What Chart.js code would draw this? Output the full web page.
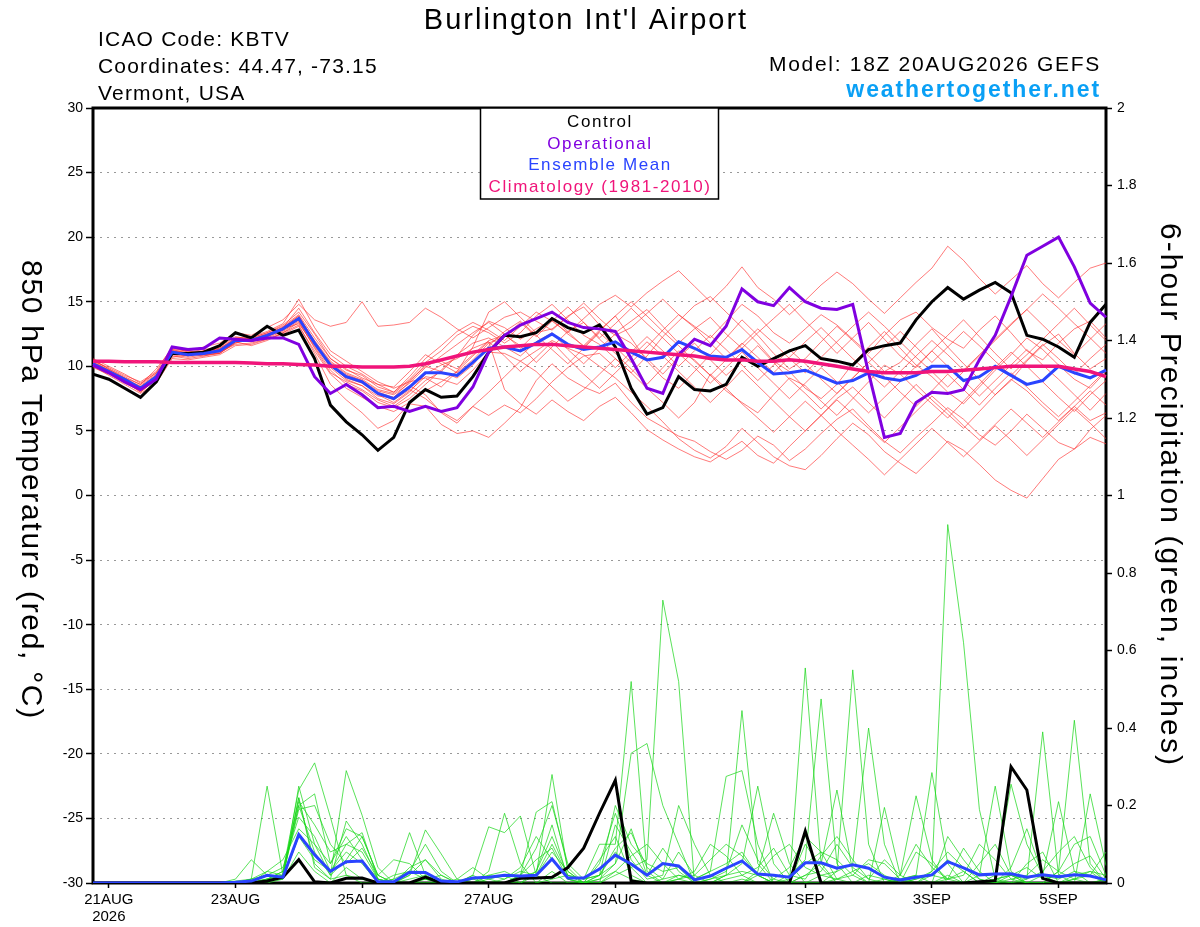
<!DOCTYPE html>
<html>
<head>
<meta charset="utf-8">
<title>Burlington Int'l Airport - GEFS 850 hPa Temperature / Precipitation</title>
<script src="https://cdn.jsdelivr.net/npm/chart.js@4.4.1/dist/chart.umd.min.js"></script>
<style>
  html, body { margin: 0; padding: 0; background: #fff; }
</style>
</head>
<body>
<canvas id="chart" width="1200" height="927"></canvas>
<script>
// 6-hourly steps from 18Z 20AUG2026 to 18Z 05SEP2026
const times = [];
for (let h = 0; h <= 384; h += 6) {
  const d = new Date(Date.UTC(2026, 7, 20, 18 + h));
  times.push(d.getUTCDate() + (d.getUTCMonth() === 7 ? 'AUG' : 'SEP') + ' ' + String(d.getUTCHours()).padStart(2, '0') + 'Z');
}

const tickDays = ['21AUG', '23AUG', '25AUG', '27AUG', '29AUG', '1SEP', '3SEP', '5SEP'];
const tickYear = '2026';

// 850 hPa temperature (C)
const control = [
  9.4, 9.0, 8.3, 7.6, 8.8, 11.0, 11.0, 11.1, 11.6, 12.6, 12.2, 13.1, 12.4,
  12.8, 10.6, 7.0, 5.7, 4.7, 3.5, 4.5, 7.2, 8.2, 7.6, 7.7, 9.2, 11.1,
  12.4, 12.3, 12.6, 13.7, 13.0, 12.6, 13.2, 11.5, 8.3, 6.3, 6.8, 9.2, 8.2,
  8.1, 8.6, 10.7, 10.0, 10.6, 11.2, 11.6, 10.6, 10.4, 10.1, 11.3, 11.6, 11.8,
  13.6, 15.0, 16.1, 15.2, 15.9, 16.5, 15.7, 12.4, 12.1, 11.5, 10.7, 13.4, 14.8,
];
const operational = [
  10.1, 9.5, 8.8, 8.2, 9.0, 11.5, 11.3, 11.4, 12.2, 12.1, 12.0, 12.2, 12.2,
  11.7, 9.2, 7.9, 8.6, 7.8, 6.8, 6.9, 6.5, 6.9, 6.5, 6.8, 8.4, 11.1,
  12.4, 13.2, 13.7, 14.2, 13.4, 13.0, 12.9, 12.7, 10.6, 8.3, 7.9, 10.9, 12.1,
  11.6, 13.1, 16.0, 15.0, 14.7, 16.1, 15.0, 14.5, 14.4, 14.8, 9.5, 4.5, 4.8,
  7.2, 8.0, 7.9, 8.2, 10.5, 12.4, 15.4, 18.6, 19.3, 20.0, 17.7, 14.9, 13.8,
];
const ensMean = [
  10.2, 9.6, 9.0, 8.3, 9.2, 11.1, 10.9, 11.0, 11.2, 12.0, 12.0, 12.4, 12.9,
  13.7, 11.8, 10.1, 9.2, 8.8, 7.9, 7.5, 8.4, 9.5, 9.5, 9.3, 10.3, 11.4,
  11.5, 11.2, 11.8, 12.5, 11.7, 11.3, 11.5, 11.9, 11.1, 10.5, 10.7, 11.9, 11.4,
  10.8, 10.7, 11.3, 10.3, 9.4, 9.5, 9.7, 9.2, 8.7, 8.9, 9.5, 9.1, 8.9,
  9.3, 10.0, 10.0, 8.9, 9.2, 10.0, 9.3, 8.6, 8.9, 10.0, 9.5, 9.1, 9.7,
];
const climatology = [
  10.4, 10.4, 10.35, 10.35, 10.35, 10.3, 10.3, 10.3, 10.3, 10.3, 10.25, 10.2, 10.2,
  10.15, 10.1, 10.0, 10.0, 9.95, 9.95, 9.95, 10.0, 10.2, 10.5, 10.8, 11.1, 11.3,
  11.5, 11.6, 11.7, 11.7, 11.6, 11.5, 11.4, 11.3, 11.2, 11.1, 11.0, 10.9, 10.8,
  10.6, 10.5, 10.5, 10.4, 10.4, 10.5, 10.4, 10.2, 10.0, 9.8, 9.6, 9.5, 9.5,
  9.5, 9.6, 9.6, 9.7, 9.8, 9.9, 10.0, 10.0, 10.0, 10.0, 9.8, 9.6, 9.2,
];

// ensemble member temperatures
const t01 = [
  10.5, 9.8, 9.2, 8.6, 9.8, 11.4, 11.2, 11.5, 11.8, 12.6, 12.4, 13.0, 13.6,
  14.8, 13.6, 13.1, 13.4, 15.0, 13.1, 13.2, 13.4, 14.5, 13.8, 12.9, 12.2, 13.0,
  13.8, 14.2, 13.5, 12.8, 13.9, 14.6, 13.2, 12.4, 13.0, 14.1, 15.2, 14.0, 13.1,
  12.2, 13.5, 14.8, 13.9, 12.6, 11.8, 12.9, 14.0, 13.2, 12.1, 11.0, 12.4, 13.6,
  14.2, 13.0, 12.1, 11.4, 12.8, 13.9, 12.6, 11.2, 10.5, 11.8, 12.9, 13.5, 12.2,
];
const t02 = [
  10.0, 9.3, 8.6, 7.9, 8.7, 10.6, 10.5, 10.7, 10.9, 11.6, 11.7, 12.1, 12.6,
  13.2, 11.0, 8.6, 7.4, 6.4, 5.2, 5.8, 7.1, 6.9, 5.5, 4.8, 5.0, 4.5,
  5.6, 6.8, 8.9, 10.2, 9.1, 8.4, 7.9, 8.7, 7.2, 6.0, 5.3, 4.6, 4.2,
  3.4, 2.8, 3.5, 4.6, 3.9, 2.7, 3.6, 4.8, 5.9, 6.7, 5.4, 4.2, 3.3,
  4.5, 5.6, 6.8, 5.9, 4.7, 3.9, 5.0, 6.3, 5.2, 4.1, 3.6, 5.1, 6.2,
];
const t03 = [
  10.3, 9.7, 8.9, 8.0, 9.0, 11.3, 11.0, 10.8, 11.0, 11.8, 12.2, 12.6, 13.2,
  14.2, 12.5, 10.6, 9.8, 9.1, 8.6, 8.0, 9.0, 10.3, 11.2, 12.4, 13.1, 12.6,
  11.8, 12.6, 13.9, 14.8, 13.6, 12.4, 11.7, 10.6, 9.5, 10.8, 12.3, 13.5, 14.7,
  15.4, 14.2, 13.0, 11.8, 10.4, 9.6, 8.3, 7.5, 8.6, 10.2, 11.5, 12.7, 11.4,
  10.1, 9.2, 8.0, 7.1, 8.4, 9.7, 10.9, 12.2, 11.3, 10.1, 9.0, 8.3, 9.6,
];
const t04 = [
  10.1, 9.5, 8.9, 8.5, 9.4, 11.0, 10.8, 11.2, 11.4, 12.1, 11.9, 12.2, 12.7,
  13.5, 11.4, 9.5, 8.8, 8.2, 7.4, 6.9, 7.8, 8.9, 9.6, 10.8, 12.4, 13.5,
  13.0, 12.1, 12.9, 13.6, 12.5, 11.6, 12.8, 13.9, 12.2, 10.4, 9.1, 8.3, 9.6,
  10.9, 12.2, 13.6, 12.4, 11.0, 9.8, 10.6, 11.9, 13.1, 12.0, 10.8, 9.6, 10.3,
  11.7, 12.9, 11.5, 10.2, 9.0, 7.8, 8.9, 10.4, 11.6, 12.5, 11.0, 9.8, 10.6,
];
const t05 = [
  10.4, 9.9, 9.3, 8.8, 9.6, 11.5, 11.1, 11.3, 11.5, 12.3, 12.1, 12.5, 13.0,
  13.9, 11.9, 10.3, 9.4, 8.9, 7.8, 7.2, 8.1, 9.2, 9.0, 8.6, 9.7, 11.1,
  11.0, 10.4, 11.2, 12.0, 11.4, 10.9, 10.0, 9.1, 8.0, 6.9, 5.7, 4.4, 3.5,
  2.9, 3.8, 5.2, 4.1, 3.0, 2.3, 2.0, 3.1, 4.4, 5.6, 4.7, 3.4, 2.5,
  1.7, 2.9, 4.2, 3.5, 2.4, 1.2, 0.4, -0.2, 1.3, 2.8, 3.6, 4.5, 4.0,
];
const t06 = [
  9.9, 9.4, 8.7, 8.1, 9.1, 10.9, 10.7, 10.9, 11.0, 11.9, 12.0, 12.3, 12.8,
  13.6, 11.7, 10.2, 9.0, 8.5, 7.7, 7.6, 8.8, 10.1, 10.4, 9.8, 10.9, 12.0,
  12.4, 11.6, 10.3, 11.5, 12.7, 13.4, 12.1, 11.0, 9.8, 8.6, 9.9, 11.2, 10.5,
  9.3, 8.1, 7.2, 6.4, 7.8, 9.1, 8.5, 7.3, 6.2, 7.5, 8.8, 10.1, 9.4,
  8.2, 7.1, 6.0, 7.3, 8.6, 9.9, 11.1, 10.0, 8.8, 7.6, 6.5, 7.8, 8.9,
];
const t07 = [
  10.6, 10.0, 9.4, 8.7, 9.5, 11.2, 11.0, 11.1, 11.3, 12.2, 12.3, 12.7, 13.3,
  15.2, 13.0, 11.2, 10.4, 9.6, 8.8, 8.3, 8.8, 9.1, 8.4, 9.6, 11.5, 14.2,
  15.0, 13.8, 12.6, 12.9, 13.8, 14.9, 13.7, 12.6, 13.5, 14.4, 13.1, 11.8, 12.9,
  13.8, 12.5, 11.4, 12.6, 13.7, 14.8, 13.5, 12.3, 11.0, 12.2, 13.4, 12.1, 10.8,
  9.9, 11.2, 12.4, 13.6, 12.3, 11.0, 9.8, 10.9, 12.1, 13.3, 14.5, 13.2, 12.0,
];
const t08 = [
  10.2, 9.6, 9.1, 8.4, 9.3, 10.8, 10.6, 10.8, 11.1, 11.7, 11.8, 12.1, 12.5,
  13.1, 11.2, 9.4, 8.3, 7.6, 6.9, 6.5, 7.2, 8.1, 8.8, 9.6, 10.8, 11.9,
  8.2, 7.1, 6.3, 7.4, 6.5, 5.8, 6.9, 7.6, 6.4, 5.1, 4.3, 3.6, 3.0,
  2.6, 3.4, 4.2, 3.1, 2.5, 3.8, 5.0, 6.2, 7.5, 8.4, 7.2, 6.0, 7.3,
  8.6, 7.4, 6.3, 5.2, 6.5, 7.8, 9.0, 8.1, 6.9, 5.8, 6.9, 8.1, 7.0,
];
const t09 = [
  10.3, 9.7, 9.0, 8.2, 9.2, 11.2, 11.1, 11.0, 11.2, 12.0, 12.2, 12.6, 13.1,
  14.0, 12.2, 10.6, 9.7, 9.3, 8.4, 8.0, 9.2, 10.6, 11.6, 12.7, 13.4, 12.8,
  12.0, 13.1, 14.2, 13.5, 12.6, 13.7, 14.8, 15.5, 14.6, 15.7, 16.6, 17.4, 16.2,
  15.0, 16.2, 17.7, 16.1, 15.2, 14.0, 15.1, 16.3, 17.3, 16.4, 15.2, 14.1, 15.3,
  16.5, 17.6, 19.3, 18.2, 16.8, 15.6, 16.7, 17.8, 16.4, 15.3, 16.5, 17.6, 18.0,
];
const t10 = [
  10.0, 9.5, 8.8, 8.0, 9.0, 10.7, 10.9, 11.0, 11.3, 11.9, 11.6, 12.0, 12.6,
  13.4, 11.5, 9.7, 8.6, 8.1, 7.2, 6.8, 7.5, 8.6, 9.7, 10.9, 11.8, 12.2,
  11.5, 10.8, 11.9, 12.6, 11.3, 10.2, 11.4, 12.5, 11.8, 10.6, 9.4, 10.7, 11.8,
  10.5, 9.3, 10.4, 11.6, 10.3, 9.0, 7.9, 6.7, 7.9, 9.1, 10.3, 9.2, 8.0,
  6.9, 8.1, 9.4, 8.2, 7.0, 8.3, 9.5, 8.4, 7.2, 6.1, 7.3, 8.5, 9.7,
];
const t11 = [
  10.5, 9.8, 9.1, 8.3, 9.1, 11.0, 10.9, 11.2, 11.1, 11.8, 12.1, 12.4, 12.8,
  13.8, 12.0, 10.4, 9.5, 9.0, 8.2, 7.9, 8.9, 10.0, 9.6, 9.1, 10.1, 11.6,
  12.7, 13.5, 12.4, 11.3, 10.2, 11.4, 12.6, 11.5, 10.3, 11.5, 12.8, 14.0, 13.0,
  11.8, 10.6, 11.8, 10.7, 9.5, 10.7, 11.9, 13.0, 11.8, 10.6, 9.5, 8.4, 9.6,
  10.8, 12.0, 10.9, 9.7, 10.9, 12.1, 13.3, 14.4, 13.2, 12.0, 10.9, 12.1, 13.3,
];
const t12 = [
  10.2, 9.6, 9.0, 8.3, 9.2, 11.1, 10.8, 11.0, 11.2, 11.9, 12.0, 12.3, 12.9,
  13.3, 11.6, 9.9, 8.9, 8.5, 7.5, 7.1, 8.0, 9.4, 10.1, 10.6, 11.4, 11.9,
  10.8, 9.6, 10.7, 11.9, 10.6, 9.4, 8.3, 9.5, 10.7, 11.9, 10.8, 9.6, 8.4,
  7.2, 8.4, 9.7, 8.5, 7.3, 6.1, 5.0, 6.2, 7.4, 6.3, 5.2, 4.1, 5.3,
  6.5, 7.7, 6.6, 5.4, 4.3, 5.5, 6.7, 5.6, 4.5, 5.7, 6.9, 5.8, 6.4,
];
const t13 = [
  10.1, 9.5, 8.8, 8.1, 9.0, 11.0, 10.9, 11.1, 11.2, 12.1, 12.0, 12.4, 13.0,
  14.5, 12.6, 10.9, 10.0, 9.4, 8.6, 8.4, 9.6, 10.9, 10.2, 9.5, 10.5, 11.8,
  12.3, 13.4, 12.3, 13.5, 14.6, 13.4, 12.2, 13.3, 14.5, 13.3, 12.2, 11.0, 9.9,
  8.7, 9.9, 11.1, 9.9, 8.7, 7.5, 8.7, 9.9, 8.8, 7.6, 6.4, 7.6, 8.8,
  10.0, 11.2, 10.0, 8.9, 7.7, 8.9, 10.1, 11.3, 10.1, 9.0, 7.8, 6.6, 7.9,
];
const t14 = [
  10.4, 9.7, 9.0, 8.4, 9.3, 11.3, 11.2, 11.1, 11.4, 12.2, 12.1, 12.5, 13.0,
  13.9, 11.9, 10.0, 9.1, 8.7, 7.9, 7.4, 8.2, 7.5, 6.5, 5.8, 6.9, 6.2,
  7.0, 6.4, 7.5, 8.8, 9.9, 10.8, 11.0, 9.9, 11.1, 12.3, 11.2, 10.0, 11.2,
  12.4, 11.3, 10.1, 8.9, 10.1, 11.3, 10.2, 9.0, 7.9, 9.1, 10.3, 11.5, 12.7,
  11.5, 10.3, 11.5, 12.7, 11.6, 10.4, 9.3, 10.5, 11.7, 10.6, 9.4, 10.6, 11.7,
];
const t15 = [
  10.3, 9.6, 8.9, 8.2, 9.1, 11.0, 11.0, 10.9, 11.0, 11.9, 12.0, 12.4, 12.9,
  13.6, 11.7, 10.0, 9.2, 8.8, 8.0, 7.6, 8.5, 7.8, 6.4, 5.6, 6.9, 8.0,
  9.2, 10.4, 9.6, 8.4, 7.3, 8.2, 9.4, 10.6, 9.5, 8.3, 7.2, 6.0, 7.2,
  9.4, 8.3, 7.1, 6.0, 4.9, 6.1, 7.3, 6.2, 5.0, 3.9, 2.8, 1.6, 2.8,
  4.0, 5.2, 4.1, 3.0, 4.2, 5.4, 4.3, 3.1, 4.3, 5.5, 6.7, 5.6, 4.4,
];
const t16 = [
  10.2, 9.7, 9.1, 8.6, 9.5, 11.2, 10.9, 11.2, 11.3, 12.0, 11.9, 12.3, 12.8,
  13.7, 11.8, 10.2, 9.3, 8.9, 8.1, 7.8, 8.7, 9.9, 10.8, 11.7, 12.6, 13.4,
  12.5, 11.4, 12.6, 13.8, 12.7, 11.5, 12.7, 13.9, 15.0, 13.9, 12.7, 11.6, 10.4,
  9.3, 10.5, 11.7, 12.9, 11.8, 10.6, 9.5, 10.7, 11.9, 13.1, 14.2, 13.1, 11.9,
  10.7, 9.6, 8.4, 9.6, 10.8, 12.0, 13.2, 14.4, 15.6, 14.5, 13.3, 12.2, 11.0,
];

// 6-hour precipitation (inches)
const precipControl = [
  0, 0, 0, 0, 0, 0, 0, 0, 0, 0, 0, 0.005, 0.015,
  0.06, 0.003, 0, 0.012, 0.013, 0, 0, 0, 0.015, 0, 0, 0, 0,
  0, 0.012, 0.013, 0.015, 0.04, 0.09, 0.18, 0.265, 0.005, 0, 0, 0, 0,
  0, 0, 0, 0, 0, 0, 0.134, 0, 0, 0, 0, 0, 0,
  0, 0, 0, 0, 0.003, 0.006, 0.30, 0.24, 0.012, 0, 0, 0, 0,
];
const precipMean = [
  0, 0, 0, 0, 0, 0, 0, 0, 0, 0.002, 0.005, 0.02, 0.015,
  0.125, 0.073, 0.03, 0.055, 0.057, 0.003, 0.003, 0.028, 0.027, 0.005, 0.003, 0.013, 0.015,
  0.02, 0.018, 0.02, 0.062, 0.013, 0.013, 0.036, 0.072, 0.049, 0.02, 0.05, 0.044, 0.008,
  0.018, 0.038, 0.057, 0.023, 0.02, 0.015, 0.052, 0.052, 0.038, 0.047, 0.038, 0.015, 0.008,
  0.015, 0.021, 0.055, 0.039, 0.021, 0.023, 0.024, 0.015, 0.021, 0.016, 0.021, 0.018, 0.008,
];

// ensemble member precipitation
const p01 = [
  0, 0, 0, 0, 0, 0, 0, 0, 0, 0.005, 0.01, 0.25, 0.02,
  0.22, 0.05, 0.01, 0.02, 0.01, 0, 0, 0, 0, 0, 0, 0, 0,
  0, 0, 0, 0.01, 0.02, 0.01, 0.1, 0.1, 0.52, 0.03, 0, 0, 0,
  0, 0, 0.01, 0, 0, 0.02, 0.06, 0.475, 0.05, 0, 0, 0, 0,
  0, 0, 0.02, 0, 0, 0, 0, 0.01, 0.39, 0.02, 0, 0, 0,
];
const p02 = [
  0, 0, 0, 0, 0, 0, 0, 0, 0, 0, 0, 0.01, 0.03,
  0.24, 0.31, 0.17, 0.02, 0, 0, 0.01, 0.13, 0.02, 0, 0, 0, 0,
  0, 0, 0.02, 0.28, 0.03, 0, 0, 0.02, 0.04, 0.06, 0.73, 0.52, 0,
  0, 0, 0, 0.02, 0, 0, 0, 0, 0.03, 0.05, 0.4, 0.1, 0,
  0, 0, 0, 0, 0, 0.01, 0.02, 0, 0, 0.03, 0.42, 0.05, 0,
];
const p03 = [
  0, 0, 0, 0, 0, 0, 0, 0, 0, 0, 0, 0.005, 0.02,
  0.2, 0.08, 0.02, 0.29, 0.175, 0.04, 0, 0, 0, 0, 0, 0, 0.03,
  0.18, 0.05, 0, 0.03, 0, 0, 0.02, 0.05, 0.335, 0.36, 0.2, 0.1, 0,
  0, 0.02, 0.445, 0.05, 0, 0, 0, 0.02, 0.03, 0.55, 0.1, 0, 0,
  0, 0.03, 0.925, 0.62, 0.19, 0.01, 0, 0, 0, 0, 0.02, 0.03, 0,
];
const p04 = [
  0, 0, 0, 0, 0, 0, 0, 0, 0, 0, 0.01, 0.02, 0.04,
  0.17, 0.12, 0.03, 0.1, 0.08, 0.01, 0, 0.02, 0.137, 0.075, 0.01, 0, 0,
  0, 0.02, 0.183, 0.21, 0.04, 0, 0, 0.03, 0.01, 0, 0, 0.02, 0.01,
  0.03, 0.275, 0.29, 0.1, 0, 0, 0.555, 0.05, 0, 0, 0, 0, 0.01,
  0.02, 0.285, 0.05, 0, 0, 0, 0, 0.05, 0.08, 0, 0, 0.23, 0.045,
];
const p05 = [
  0, 0, 0, 0, 0, 0, 0, 0, 0, 0.01, 0.06, 0.02, 0.01,
  0.25, 0.1, 0.05, 0.14, 0.12, 0.02, 0.06, 0.05, 0.01, 0, 0, 0.02, 0.145,
  0.13, 0.173, 0.02, 0, 0, 0, 0.05, 0.18, 0.06, 0.01, 0.02, 0.2, 0.1,
  0.02, 0, 0, 0.03, 0.18, 0.05, 0, 0, 0.01, 0, 0, 0, 0.02,
  0.225, 0.06, 0, 0, 0.02, 0.25, 0.03, 0, 0, 0, 0.01, 0.02, 0,
];
const p06 = [
  0, 0, 0, 0, 0, 0, 0, 0, 0, 0, 0, 0.01, 0.03,
  0.21, 0.15, 0.08, 0.1, 0.13, 0.01, 0, 0, 0.01, 0.02, 0, 0, 0,
  0, 0.01, 0.03, 0.12, 0.02, 0, 0, 0.15, 0.08, 0.02, 0, 0.01, 0.02,
  0.06, 0.1, 0.07, 0.02, 0, 0, 0.02, 0.05, 0.24, 0.03, 0, 0.195, 0.02,
  0, 0, 0.01, 0.03, 0, 0.02, 0.255, 0.1, 0.02, 0.21, 0.03, 0, 0.01,
];
const p07 = [
  0, 0, 0, 0, 0, 0, 0, 0, 0, 0, 0.005, 0.01, 0.02,
  0.19, 0.2, 0.1, 0.05, 0.09, 0.02, 0, 0.04, 0.06, 0.01, 0, 0.02, 0,
  0, 0.02, 0.09, 0.2, 0.05, 0.01, 0.02, 0.2, 0.1, 0.05, 0.03, 0.04, 0,
  0, 0.02, 0.05, 0.25, 0.05, 0, 0.1, 0.04, 0, 0, 0.02, 0.01, 0,
  0.08, 0.05, 0.01, 0, 0.05, 0.1, 0.02, 0, 0, 0.03, 0.1, 0.12, 0.02,
];
const p08 = [
  0, 0, 0, 0, 0, 0, 0, 0, 0, 0, 0, 0.005, 0.01,
  0.12, 0.06, 0.03, 0.08, 0.05, 0, 0.01, 0.03, 0.01, 0, 0, 0.01, 0.02,
  0.03, 0.01, 0.02, 0.1, 0.02, 0.01, 0.02, 0.08, 0.04, 0, 0.01, 0.02, 0.01,
  0.03, 0.05, 0.08, 0.02, 0, 0.01, 0.05, 0.08, 0.06, 0.02, 0, 0.01, 0,
  0.01, 0.03, 0.08, 0.04, 0.01, 0, 0.01, 0.02, 0.06, 0.03, 0.01, 0, 0.01,
];
const p09 = [
  0, 0, 0, 0, 0, 0, 0, 0, 0, 0, 0.01, 0.03, 0.02,
  0.22, 0.04, 0.01, 0.16, 0.1, 0.01, 0, 0.02, 0.06, 0.02, 0, 0, 0.01,
  0.02, 0, 0.03, 0.15, 0.01, 0, 0.06, 0.12, 0.02, 0, 0, 0.01, 0.03,
  0.1, 0.07, 0.02, 0, 0.01, 0.04, 0.12, 0.08, 0.01, 0.02, 0.06, 0.05, 0.01,
  0, 0.02, 0.01, 0.09, 0.03, 0, 0.04, 0.14, 0.02, 0, 0.01, 0.03, 0.02,
];
const p10 = [
  0, 0, 0, 0, 0, 0, 0, 0, 0, 0, 0, 0.03, 0.06,
  0.14, 0.1, 0.02, 0.06, 0.12, 0.02, 0, 0, 0.01, 0, 0.01, 0.04, 0.01,
  0, 0.02, 0.06, 0.09, 0.01, 0, 0.02, 0.09, 0.13, 0.04, 0.01, 0.08, 0.02,
  0, 0.01, 0.02, 0.04, 0.09, 0.02, 0.01, 0.07, 0.12, 0.06, 0.01, 0, 0.01,
  0.02, 0, 0.12, 0.06, 0.01, 0, 0.02, 0.01, 0.03, 0.08, 0.12, 0.04, 0,
];
const p11 = [
  0, 0, 0, 0, 0, 0, 0, 0, 0, 0, 0, 0, 0.01,
  0.08, 0.03, 0, 0.04, 0.01, 0, 0.02, 0.03, 0.1, 0.03, 0, 0, 0.02,
  0.01, 0.04, 0.12, 0.06, 0.01, 0, 0.01, 0.03, 0.07, 0.1, 0.05, 0.01, 0,
  0.01, 0.03, 0.15, 0.06, 0.01, 0, 0.02, 0.03, 0.1, 0.04, 0.01, 0.06, 0.02,
  0.1, 0.04, 0.01, 0.02, 0.1, 0.06, 0.01, 0, 0.02, 0.01, 0.03, 0.02, 0.08,
];
const p12 = [
  0, 0, 0, 0, 0, 0, 0, 0, 0, 0, 0, 0.01, 0.02,
  0.2, 0.23, 0.05, 0.12, 0.06, 0.01, 0, 0.01, 0.02, 0, 0, 0.01, 0,
  0.01, 0.03, 0.02, 0.08, 0.03, 0, 0.01, 0.05, 0.14, 0.02, 0.09, 0.03, 0,
  0.01, 0.02, 0.03, 0.02, 0.07, 0.1, 0.04, 0.02, 0.01, 0.03, 0.05, 0.02, 0,
  0.01, 0.02, 0.06, 0.03, 0, 0.01, 0.02, 0.04, 0.01, 0.02, 0.05, 0.07, 0.01,
];

const tempMembers = [t01, t02, t03, t04, t05, t06, t07, t08, t09, t10, t11, t12, t13, t14, t15, t16];
const precipMembers = [p01, p02, p03, p04, p05, p06, p07, p08, p09, p10, p11, p12];

const tickIdx = tickDays.map((d) => times.indexOf(d + ' 00Z'));

const FONT = '"Liberation Sans", Arial, Helvetica, sans-serif';

function line(data, color, width, axis) {
  return { data, borderColor: color, borderWidth: width, yAxisID: axis, pointRadius: 0, tension: 0, fill: false };
}

// first dataset is drawn on top
const datasets = [
  line(climatology, '#f0147a', 3.5, 'y'),
  line(operational, '#8000e0', 3, 'y'),
  line(ensMean, '#2a44ff', 3, 'y'),
  line(control, '#000000', 3, 'y'),
  line(precipMean, '#2a44ff', 3, 'y1'),
  line(precipControl, '#000000', 3, 'y1'),
  ...tempMembers.map((m) => line(m, 'rgba(255,45,45,0.8)', 0.8, 'y')),
  ...precipMembers.map((m) => line(m, 'rgba(25,215,25,0.9)', 0.8, 'y1')),
];

function put(c, txt, x, y, font, color, align, spacing) {
  c.font = font;
  c.fillStyle = color;
  c.textAlign = align;
  c.letterSpacing = spacing || '0px';
  c.fillText(txt, x, y);
}

const framePlugin = {
  id: 'frame',
  beforeDatasetsDraw(chart) {
    const a = chart.chartArea;
    const c = chart.ctx;
    c.save();
    c.strokeStyle = '#000';
    c.lineWidth = 3;
    c.strokeRect(a.left, a.top, a.right - a.left, a.bottom - a.top);
    c.restore();
  },
};

const textPlugin = {
  id: 'texts',
  afterDraw(chart) {
    const c = chart.ctx;
    c.save();
    c.textBaseline = 'alphabetic';
    put(c, "Burlington Int'l Airport", 586, 29, '29px ' + FONT, '#000', 'center', '2px');
    put(c, 'ICAO Code: KBTV', 98, 46, '21px ' + FONT, '#000', 'left', '1.2px');
    put(c, 'Coordinates: 44.47, -73.15', 98, 73, '21px ' + FONT, '#000', 'left', '1.2px');
    put(c, 'Vermont, USA', 98, 100, '21px ' + FONT, '#000', 'left', '1.2px');
    put(c, 'Model: 18Z 20AUG2026 GEFS', 1101, 71, '21px ' + FONT, '#000', 'right', '1.7px');
    put(c, 'weathertogether.net', 1101, 97, 'bold 23px ' + FONT, '#0aa0f5', 'right', '1.9px');

    // legend box
    c.fillStyle = '#fff';
    c.fillRect(480, 108, 239, 91);
    c.strokeStyle = '#000';
    c.lineWidth = 1.5;
    c.strokeRect(480.5, 108, 238, 91);
    put(c, 'Control', 600, 127, '17px ' + FONT, '#000', 'center', '1.6px');
    put(c, 'Operational', 600, 149, '17px ' + FONT, '#8000e0', 'center', '1.6px');
    put(c, 'Ensemble Mean', 600, 170, '17px ' + FONT, '#2a44ff', 'center', '1.6px');
    put(c, 'Climatology (1981-2010)', 600, 192, '17px ' + FONT, '#f0147a', 'center', '1.6px');

    // axis titles (both read top to bottom)
    c.textBaseline = 'middle';
    c.save();
    c.translate(30, 490);
    c.rotate(Math.PI / 2);
    put(c, '850 hPa Temperature (red, °C)', 0, 0, '30px ' + FONT, '#000', 'center', '1.7px');
    c.restore();
    c.save();
    c.translate(1169, 495);
    c.rotate(Math.PI / 2);
    put(c, '6-hour Precipitation (green, inches)', 0, 0, '30px ' + FONT, '#000', 'center', '2.1px');
    c.restore();
    c.restore();
  },
};

new Chart(document.getElementById('chart'), {
  type: 'line',
  data: { labels: times, datasets },
  options: {
    responsive: false,
    animation: false,
    layout: { padding: { top: 108, left: 0, right: 0, bottom: 0 } },
    plugins: { legend: { display: false }, tooltip: { enabled: false }, title: { display: false } },
    scales: {
      x: {
        type: 'category',
        offset: false,
        border: { display: false },
        grid: { display: true, drawOnChartArea: false, drawTicks: true, tickLength: 5, tickColor: '#000', tickWidth: 1.5 },
        afterBuildTicks: (s) => { s.ticks = tickIdx.map((v) => ({ value: v })); },
        afterFit: (s) => { s.height = 44; },
        ticks: {
          autoSkip: false,
          maxRotation: 0,
          padding: 4,
          color: '#000',
          font: { family: FONT, size: 15, lineHeight: 1.1 },
          callback: (v) => {
            const k = tickIdx.indexOf(v);
            return k === 0 ? [tickDays[k], tickYear] : tickDays[k];
          },
        },
      },
      y: {
        type: 'linear',
        position: 'left',
        min: -30,
        max: 30,
        border: { display: false, dash: [2, 5] },
        grid: {
          color: (ctx) => (ctx.tick && Math.abs(ctx.tick.value) === 30 ? 'rgba(0,0,0,0)' : '#999'),
          lineWidth: 1,
          drawTicks: true,
          tickLength: 7,
          tickColor: '#000',
          tickWidth: 1.5,
          tickBorderDash: [],
        },
        afterFit: (s) => { s.width = 93; },
        ticks: { stepSize: 5, padding: 3, color: '#000', font: { family: FONT, size: 14 } },
      },
      y1: {
        type: 'linear',
        position: 'right',
        min: 0,
        max: 2,
        border: { display: false },
        grid: { drawOnChartArea: false, drawTicks: true, tickLength: 6, tickColor: '#000', tickWidth: 1.5 },
        afterFit: (s) => { s.width = 94; },
        ticks: {
          stepSize: 0.2,
          padding: 5,
          color: '#000',
          font: { family: FONT, size: 14 },
          callback: (v) => String(Math.round(v * 10) / 10),
        },
      },
    },
  },
  plugins: [framePlugin, textPlugin],
});
</script>
</body>
</html>
